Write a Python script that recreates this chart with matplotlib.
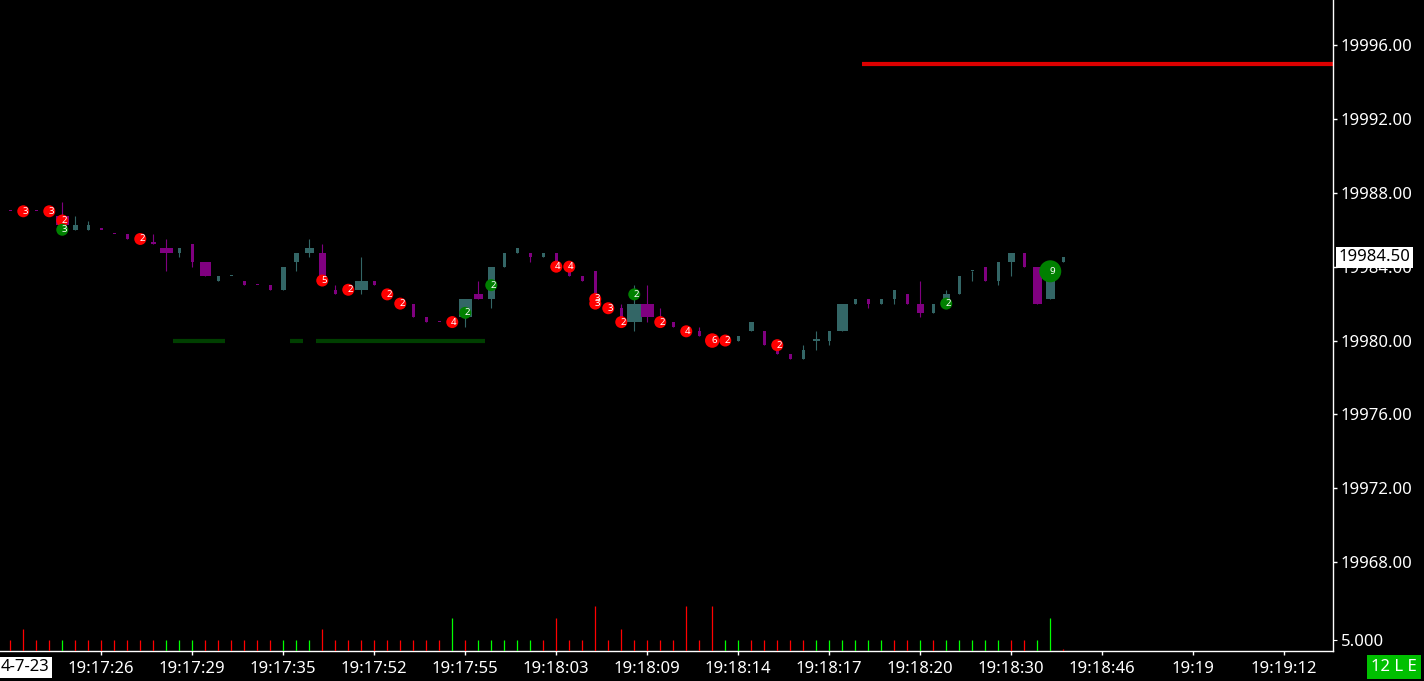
import numpy as np
import matplotlib.pyplot as plt
from matplotlib.transforms import blended_transform_factory

plt.rcParams['font.family'] = ['Noto Sans', 'DejaVu Sans']

# ---- bar data (one bar per trade group), prices ----
opens = [19987.0, 19987.0, 19987.0, 19987.0, 19986.75, 19986.0, 19986.0, 19986.0, 19985.75, 19985.75,
         19985.5, 19985.25, 19985.0, 19984.75, 19985.25, 19984.25, 19983.25, 19983.5, 19983.25, 19983.0,
         19983.0, 19982.75, 19984.25, 19984.75, 19984.75, 19982.75, 19982.75, 19982.75, 19983.25, 19982.5,
         19982.0, 19982.0, 19981.25, 19981.0, 19981.0, 19981.25, 19982.5, 19982.25, 19984.0, 19984.75,
         19984.75, 19984.5, 19984.75, 19983.75, 19983.5, 19983.75, 19981.75, 19981.75, 19981.0, 19982.0,
         19981.25, 19981.0, 19980.5, 19980.5, 19980.0, 19980.0, 19980.0, 19980.5, 19980.5, 19979.75,
         19979.25, 19979.0, 19980.0, 19980.0, 19980.5, 19982.0, 19982.25, 19982.0, 19982.25, 19982.5,
         19982.0, 19981.5, 19982.25, 19982.5, 19983.75, 19984.0, 19983.25, 19984.25, 19984.75, 19984.0,
         19982.25, 19984.25]
highs = [19987.0, 19987.0, 19987.0, 19987.0, 19987.5, 19986.75, 19986.5, 19986.0, 19985.75, 19985.75,
         19985.5, 19985.75, 19985.5, 19985.0, 19985.25, 19984.25, 19983.5, 19983.5, 19983.25, 19983.0,
         19983.0, 19984.0, 19984.75, 19985.5, 19985.25, 19983.0, 19982.75, 19984.5, 19983.25, 19982.5,
         19982.0, 19982.0, 19981.25, 19981.0, 19981.0, 19982.25, 19983.25, 19984.0, 19984.75, 19985.0,
         19984.75, 19984.75, 19984.75, 19983.75, 19983.5, 19983.75, 19981.75, 19982.0, 19983.0, 19983.0,
         19981.75, 19981.0, 19980.5, 19980.75, 19980.0, 19980.0, 19980.25, 19981.0, 19980.5, 19979.75,
         19979.25, 19979.75, 19980.5, 19980.5, 19982.0, 19982.25, 19982.25, 19982.25, 19982.75, 19982.5,
         19983.25, 19982.0, 19982.75, 19983.5, 19983.75, 19984.0, 19984.25, 19984.75, 19984.75, 19984.0,
         19983.25, 19984.5]
lows = [19987.0, 19987.0, 19987.0, 19987.0, 19986.0, 19986.0, 19986.0, 19986.0, 19985.75, 19985.5,
        19985.5, 19985.25, 19983.75, 19984.5, 19984.0, 19983.5, 19983.25, 19983.5, 19983.0, 19983.0,
        19982.75, 19982.75, 19983.75, 19984.5, 19983.5, 19982.5, 19982.75, 19982.5, 19983.0, 19982.5,
        19982.0, 19981.25, 19981.0, 19981.0, 19981.0, 19980.75, 19982.25, 19981.75, 19984.0, 19984.75,
        19984.25, 19984.5, 19984.25, 19983.5, 19983.25, 19982.5, 19981.75, 19981.25, 19980.5, 19981.0,
        19981.0, 19980.75, 19980.5, 19980.25, 19980.0, 19980.0, 19980.0, 19980.5, 19979.75, 19979.25,
        19979.0, 19979.0, 19979.5, 19979.75, 19980.5, 19982.0, 19981.75, 19982.0, 19982.0, 19982.0,
        19981.25, 19981.5, 19982.25, 19982.5, 19983.25, 19983.25, 19983.0, 19983.5, 19984.0, 19982.0,
        19982.25, 19984.25]
closes = [19987.0, 19987.0, 19987.0, 19987.0, 19986.25, 19986.25, 19986.25, 19986.0, 19985.75, 19985.5,
          19985.5, 19985.25, 19984.75, 19985.0, 19984.25, 19983.5, 19983.5, 19983.5, 19983.0, 19983.0,
          19982.75, 19984.0, 19984.75, 19985.0, 19983.5, 19982.5, 19982.75, 19983.25, 19983.0, 19982.5,
          19982.0, 19981.25, 19981.0, 19981.0, 19981.0, 19982.25, 19982.25, 19984.0, 19984.75, 19985.0,
          19984.5, 19984.75, 19984.25, 19983.5, 19983.25, 19982.5, 19981.75, 19981.25, 19982.0, 19981.25,
          19981.0, 19980.75, 19980.5, 19980.25, 19980.0, 19980.0, 19980.25, 19981.0, 19979.75, 19979.25,
          19979.0, 19979.5, 19980.0, 19980.5, 19982.0, 19982.25, 19982.0, 19982.25, 19982.75, 19982.0,
          19981.5, 19982.0, 19982.5, 19983.5, 19983.75, 19983.25, 19984.25, 19984.75, 19984.0, 19982.0,
          19983.25, 19984.5]
volumes = [5, 10, 5, 5, 5, 5, 5, 5, 5, 5, 5, 5, 5, 5, 5, 5, 5, 5, 5, 5,
           5, 5, 5, 5, 10, 5, 5, 5, 5, 5, 5, 5, 5, 5, 15, 5, 5, 5, 5, 5,
           5, 5, 15, 5, 5, 20, 5, 10, 5, 5, 5, 5, 20, 5, 20, 5, 5, 5, 5, 5,
           5, 5, 5, 5, 5, 5, 5, 5, 5, 5, 5, 5, 5, 5, 5, 5, 5, 5, 5, 5,
           15, 1]
# B = buy side (green), S = sell side (red)
vol_side = "SSSSBSSSSSSSBBBSSSSSSBBBSSSSSSSSSSBSBBBBBSSSSSSSSSSSSSSBBSSSSSBBBBBBSSBSBBBBBSSBB"

tick_bars = [7, 14, 21, 28, 35, 42, 49, 56, 63, 70, 77, 84, 91, 98]
tick_labels = ['19:17:26', '19:17:29', '19:17:35', '19:17:52', '19:17:55', '19:18:03', '19:18:09',
               '19:18:14', '19:18:17', '19:18:20', '19:18:30', '19:18:46', '19:19', '19:19:12']
date_label = '4-7-23'

# trade markers
m_bar = [1, 3, 4, 4, 10, 24, 26, 29, 30, 34, 35, 37, 42, 43, 45, 45, 46, 47, 48, 50, 52, 54, 55, 59, 72, 80]
m_price = [19987.0, 19987.0, 19986.5, 19986.0, 19985.5, 19983.25, 19982.75, 19982.5, 19982.0, 19981.0,
           19981.5, 19983.0, 19984.0, 19984.0, 19982.25, 19982.0, 19981.75, 19981.0, 19982.5, 19981.0,
           19980.5, 19980.0, 19980.0, 19979.75, 19982.0, 19983.75]
m_count = [3, 3, 2, 3, 2, 5, 2, 2, 2, 4, 2, 2, 4, 4, 3, 3, 3, 2, 2, 2, 4, 6, 2, 2, 2, 9]
m_side = "SSSBSSSSSSBBSSSSSSBSSSSSBB"

# level lines
zone_price = 19980.0
zone_from = [13, 22, 24]
zone_to = [16, 22, 36]
stop_price = 19995.0
stop_from = 66
last_price = 19984.50
status_text = '12 L E'

# ---- drawing ----
W, H = 1424, 681
PX_BAR = 13.0      # pixels per bar
PX_PT = 18.47      # pixels per price point
UP, DOWN = '#336666', '#800080'

body_px = [3, 3, 3, 3, 13, 5, 3, 3, 3, 3, 3, 5, 13, 3, 3, 11, 3, 3, 3, 3,
           3, 5, 5, 9, 7, 3, 3, 13, 3, 3, 3, 3, 3, 3, 3, 13, 9, 7, 3, 3,
           3, 3, 3, 3, 3, 3, 3, 3, 15, 13, 3, 3, 3, 3, 3, 3, 3, 5, 3, 3,
           3, 3, 7, 3, 11, 3, 3, 3, 3, 3, 7, 3, 7, 3, 3, 3, 3, 7, 3, 9,
           9, 3]

fig = plt.figure(figsize=(W / 100, H / 100), dpi=100, facecolor='black')
ax = fig.add_axes([0, 30 / H, 1333 / W, 651 / H])
ax.set_facecolor('black')

x = np.arange(len(closes))
o = np.array(opens)
c = np.array(closes)

# candle colour: direction of body, doji follows previous close / previous colour
cols = []
prev = DOWN
for i in range(len(c)):
    if c[i] > o[i]:
        col = UP
    elif c[i] < o[i]:
        col = DOWN
    elif i > 0 and c[i] > c[i - 1]:
        col = UP
    elif i > 0 and c[i] < c[i - 1]:
        col = DOWN
    else:
        col = prev
    cols.append(col)
    prev = col

ax.vlines(x, lows, highs, colors=cols, lw=0.8, zorder=2)
body_h = np.maximum(np.abs(c - o), 1.3 / PX_PT)
ax.bar(x, body_h, bottom=np.minimum(o, c), width=np.array(body_px) / PX_BAR,
       color=cols, linewidth=0, zorder=3)

for a, b in zip(zone_from, zone_to):
    ax.hlines(zone_price, a - 0.5, b + 0.5, color='#003f00', lw=3, zorder=1)
ax.hlines(stop_price, stop_from - 0.5, 101.75, color='#dd0000', lw=3, zorder=1)

for b, p, n, s in zip(m_bar, m_price, m_count, m_side):
    d = 12 + max(0, n - 5) * 2.5
    ax.scatter(b, p, s=(d * 0.72) ** 2, color='#ff0000' if s == 'S' else '#008000',
               edgecolors='none', zorder=5)
    ax.annotate(str(n), (b, p), xytext=(1.2, 0), textcoords='offset points',
                ha='center', va='center', color='white', fontsize=7, zorder=6)

ax.set_xlim(-0.79, 101.75)
ax.set_ylim(19963.19, 19998.44)

for s in ['left', 'top']:
    ax.spines[s].set_visible(False)
for s in ['right', 'bottom']:
    ax.spines[s].set_color('white')
    ax.spines[s].set_linewidth(1)

ax.yaxis.tick_right()
ax.set_yticks(np.arange(19968, 19997, 4))
ax.set_yticklabels(['%.2f' % v for v in np.arange(19968, 19997, 4)])
ax.set_xticks(tick_bars)
ax.set_xticklabels(tick_labels)
ax.tick_params(axis='both', colors='white', labelcolor='white', labelsize=12,
               length=3, width=1, direction='out')
ax.tick_params(axis='y', pad=2.5)
ax.tick_params(axis='x', pad=4)

# volume pane
vax = fig.add_axes([0, 30 / H, 1333 / W, 100 / H])
vax.patch.set_visible(False)
vax.set_xlim(ax.get_xlim())
vax.set_ylim(0, 100 / 2.23)
vcols = ['#ff0000' if s == 'S' else '#00ff00' for s in vol_side]
vax.vlines(x, 0, volumes, colors=vcols, lw=0.9)
for s in vax.spines.values():
    s.set_visible(False)
vax.yaxis.tick_right()
vax.set_yticks([5])
vax.set_yticklabels(['5.000'])
vax.tick_params(axis='y', colors='white', labelcolor='white', labelsize=12, length=3, pad=2.5)
vax.tick_params(axis='x', bottom=False, labelbottom=False)

# last price box
tr = blended_transform_factory(ax.transAxes, ax.transData)
ax.text(1.0045, last_price, '%.2f' % last_price, transform=tr, color='black', fontsize=12,
        ha='left', va='center', clip_on=False, zorder=10,
        bbox=dict(boxstyle='square,pad=0.15', fc='white', ec='none'))

# date label and status box
fig.text(1 / W, 14 / H, date_label, color='black', fontsize=12, ha='left', va='center',
         bbox=dict(boxstyle='square,pad=0.15', fc='white', ec='none'))
fig.text(1394 / W, 14 / H, status_text, color='white', fontsize=12, ha='center', va='center',
         bbox=dict(boxstyle='square,pad=0.25', fc='#00c000', ec='none'))

fig.savefig('out.png', dpi=100, facecolor='black')
